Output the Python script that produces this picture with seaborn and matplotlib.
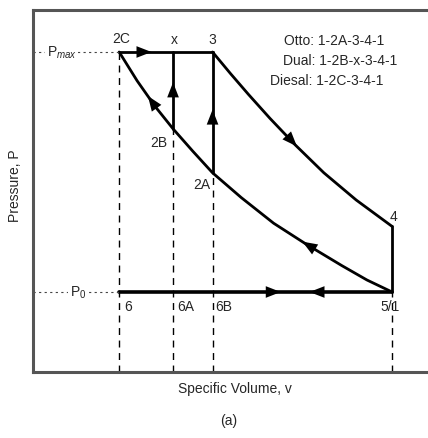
import matplotlib
matplotlib.use("Agg")
import matplotlib.pyplot as plt
import seaborn as sns
import pandas as pd

# state points (specific volume, pressure) in arbitrary units
v_2C, v_x, v_3, v_1 = 2.4, 3.9, 5.0, 10.0
p_max, p_0 = 4.0, 1.0
p_2B, p_2A, p_4 = 3.04, 2.49, 1.82

# compression curve 1 -> 2A -> 2B -> 2C
comp_v = [10.0, 9.3, 8.6, 7.6, 6.7, 5.8, 5.0, 4.45, 3.9, 3.4, 2.9, 2.4]
comp_p = [1.0, 1.15, 1.33, 1.6, 1.86, 2.18, 2.49, 2.76, 3.04, 3.32, 3.64, 4.0]

# expansion curve 3 -> 4
exp_v = [5.0, 5.5, 6.0, 6.6, 7.3, 8.1, 9.0, 10.0]
exp_p = [4.0, 3.73, 3.47, 3.17, 2.84, 2.49, 2.15, 1.82]

point_labels = ["2C", "x", "3", "2B", "2A", "4", "5/1", "6", "6A", "6B"]
legend_lines = ["Otto: 1-2A-3-4-1", "Dual: 1-2B-x-3-4-1", "Diesal: 1-2C-3-4-1"]

sns.set_style("white")
plt.rcParams['font.family'] = ['Liberation Sans', 'DejaVu Sans']
plt.rcParams['mathtext.fontset'] = 'custom'
plt.rcParams['mathtext.rm'] = 'Liberation Sans'
plt.rcParams['mathtext.it'] = 'Liberation Sans:italic'

fig = plt.figure(figsize=(4.28, 4.39), dpi=100)
ax = fig.add_axes([33/428, 66/439, 395/428, 362/439])
ax.set_xlim(0, 11)
ax.set_ylim(0, 4.525)

lw = 2.0
k = 'black'
comp = pd.DataFrame({'v': comp_v, 'p': comp_p})
expn = pd.DataFrame({'v': exp_v, 'p': exp_p})
sns.lineplot(data=comp, x='v', y='p', color=k, lw=lw, sort=False, estimator=None, ax=ax)
sns.lineplot(data=expn, x='v', y='p', color=k, lw=lw, sort=False, estimator=None, ax=ax)

# constant pressure / constant volume lines
ax.plot([v_2C, v_3], [p_max, p_max], color=k, lw=lw)
ax.plot([v_x, v_x], [p_2B, p_max], color=k, lw=lw)
ax.plot([v_3, v_3], [p_2A, p_max], color=k, lw=lw)
ax.plot([v_1, v_1], [p_0, p_4], color=k, lw=lw)
ax.plot([v_2C, v_1], [p_0, p_0], color=k, lw=lw + 0.6)

# dashed guides
dk = dict(color=k, lw=1.0, ls=(0, (5, 4)))
ax.plot([v_2C, v_2C], [0, p_max], **dk)
ax.plot([v_x, v_x], [0, p_2B], **dk)
ax.plot([v_3, v_3], [0, p_2A], **dk)
ax.plot([v_1, v_1], [0, p_0], **dk)
dd = dict(color='#444444', lw=0.8, ls=(0, (2, 3)))
ax.plot([0, v_2C], [p_max, p_max], **dd)
ax.plot([0, v_2C], [p_0, p_0], **dd)
ax.text(0.8, p_max, r"P$_{max}$", fontsize=10, ha='center', va='center',
        bbox=dict(fc='white', ec='none', pad=1))
ax.text(1.25, p_0, r"P$_0$", fontsize=10, ha='center', va='center',
        bbox=dict(fc='white', ec='none', pad=1))

# arrows
def arrow(x0, y0, x1, y1):
    ax.annotate("", xy=(x1, y1), xytext=(x0, y0),
                arrowprops=dict(arrowstyle='-|>,head_length=0.9,head_width=0.35',
                                mutation_scale=12, color=k, lw=0,
                                shrinkA=0, shrinkB=0))

arrow(2.9, p_max, 3.3, p_max)
arrow(v_x, 3.35, v_x, 3.62)
arrow(v_3, 3.0, v_3, 3.28)
arrow(3.5, 3.26, 3.2, 3.45)
arrow(7.0, 2.99, 7.35, 2.82)
arrow(7.9, 1.52, 7.5, 1.63)
arrow(6.5, p_0, 6.9, p_0)
arrow(8.1, p_0, 7.7, p_0)

# state labels
fs = 10
pos = [(2.45, 4.18), (3.95, 4.16), (5.0, 4.16), (3.5, 2.88), (4.7, 2.35),
       (10.05, 1.95), (9.95, 0.82), (2.65, 0.82), (4.25, 0.82), (5.3, 0.82)]
for lab, (x, y) in zip(point_labels, pos):
    ax.text(x, y, lab, fontsize=fs, ha='center', va='center')

for i, (line, x) in enumerate(zip(legend_lines, [7.0, 6.95, 6.6])):
    ax.text(x, 4.15 - i * 0.25, line, fontsize=fs, ha='left', va='center')

ax.set_xticks([])
ax.set_yticks([])
ax.set_xlabel("")
ax.set_ylabel("")
for s in ['left', 'top', 'bottom']:
    ax.spines[s].set_color('#555555')
    ax.spines[s].set_linewidth(2.2)
ax.spines['right'].set_visible(False)

fig.text(235/428, 1 - 389/439, "Specific Volume, v", fontsize=fs, ha='center', va='center')
fig.text(15/428, 1 - 186/439, "Pressure, P", fontsize=fs, ha='center', va='center', rotation=90)
fig.text(229/428, 1 - 421/439, "(a)", fontsize=fs, ha='center', va='center')

fig.savefig("out.png", dpi=100)
